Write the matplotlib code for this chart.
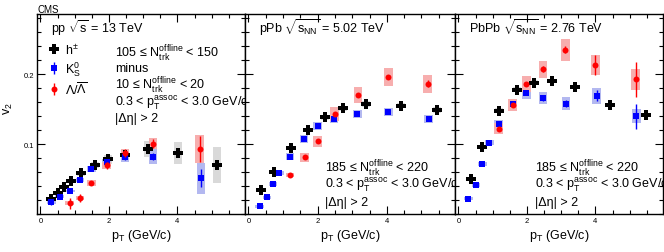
import matplotlib
matplotlib.use('Agg')
from matplotlib import pyplot as plt
from matplotlib.ticker import MultipleLocator
import numpy as np

plt.rcParams['font.family'] = ['Liberation Sans', 'DejaVu Sans']
plt.rcParams['mathtext.fontset'] = 'custom'
plt.rcParams['mathtext.rm'] = 'Liberation Sans'
plt.rcParams['mathtext.it'] = 'Liberation Sans:italic'
plt.rcParams['mathtext.sf'] = 'Liberation Sans'

# pp 13 TeV
pp_h_pt = [0.32, 0.51, 0.70, 0.90, 1.18, 1.59, 1.97, 2.47, 3.13, 4.02, 5.15]
pp_h_v2 = [0.021, 0.030, 0.038, 0.047, 0.058, 0.070, 0.078, 0.084, 0.093, 0.087, 0.070]
pp_h_sys = [0.002, 0.002, 0.002, 0.002, 0.003, 0.004, 0.006, 0.009, 0.011, 0.016, 0.026]
pp_k_pt = [0.32, 0.56, 0.87, 1.16, 1.49, 1.93, 2.47, 3.28, 4.69]
pp_k_v2 = [0.017, 0.025, 0.033, 0.049, 0.064, 0.074, 0.081, 0.082, 0.051]
pp_k_sys = [0.002, 0.002, 0.002, 0.003, 0.004, 0.005, 0.007, 0.011, 0.022]
pp_k_stat = [0.004, 0.002, 0.002, 0.002, 0.002, 0.003, 0.004, 0.005, 0.013]
pp_l_pt = [0.85, 1.16, 1.49, 1.93, 2.47, 3.28, 4.65]
pp_l_v2 = [0.0155, 0.0226, 0.044, 0.0696, 0.0875, 0.1007, 0.093]
pp_l_sys = [0.003, 0.003, 0.004, 0.005, 0.006, 0.008, 0.020]
pp_l_stat = [0.008, 0.006, 0.003, 0.005, 0.006, 0.007, 0.019]

# pPb 5.02 TeV
pa_h_pt = [0.37, 0.73, 1.22, 1.72, 2.22, 2.74, 3.41, 4.42, 5.46]
pa_h_v2 = [0.034, 0.060, 0.094, 0.120, 0.138, 0.151, 0.157, 0.155, 0.149]
pa_h_sys = [0.002, 0.002, 0.003, 0.003, 0.003, 0.004, 0.004, 0.004, 0.004]
pa_k_pt = [0.32, 0.54, 0.71, 0.89, 1.20, 1.61, 2.00, 2.47, 3.15, 4.04, 5.21]
pa_k_v2 = [0.011, 0.024, 0.043, 0.059, 0.082, 0.107, 0.126, 0.136, 0.143, 0.146, 0.136]
pa_k_sys = [0.002, 0.002, 0.003, 0.003, 0.005, 0.006, 0.006, 0.006, 0.006, 0.006, 0.006]
pa_k_stat = [0.002, 0.001, 0.001, 0.001, 0.001, 0.001, 0.001, 0.001, 0.002, 0.002, 0.003]
pa_l_pt = [1.20, 1.62, 2.00, 2.49, 3.17, 4.04, 5.18]
pa_l_v2 = [0.056, 0.081, 0.104, 0.143, 0.170, 0.196, 0.186]
pa_l_sys = [0.003, 0.006, 0.008, 0.010, 0.011, 0.013, 0.0125]
pa_l_stat = [0.001, 0.002, 0.002, 0.002, 0.003, 0.003, 0.005]

# PbPb 2.76 TeV
aa_h_pt = [0.37, 0.70, 1.19, 1.71, 2.21, 2.73, 3.39, 4.41, 5.46]
aa_h_v2 = [0.050, 0.096, 0.148, 0.178, 0.188, 0.190, 0.182, 0.156, 0.142]
aa_h_sys = [0.002, 0.002, 0.003, 0.003, 0.003, 0.003, 0.003, 0.003, 0.003]
aa_k_pt = [0.29, 0.51, 0.70, 0.90, 1.17, 1.58, 1.98, 2.47, 3.14, 4.03, 5.19]
aa_k_v2 = [0.022, 0.042, 0.072, 0.102, 0.129, 0.158, 0.173, 0.166, 0.158, 0.169, 0.140]
aa_k_sys = [0.002, 0.003, 0.003, 0.004, 0.006, 0.007, 0.008, 0.009, 0.0095, 0.011, 0.010]
aa_k_stat = [0.002, 0.001, 0.001, 0.001, 0.002, 0.002, 0.003, 0.004, 0.005, 0.008, 0.018]
aa_l_pt = [1.17, 1.58, 1.98, 2.47, 3.12, 4.00, 5.17]
aa_l_v2 = [0.122, 0.156, 0.186, 0.207, 0.235, 0.213, 0.193]
aa_l_sys = [0.008, 0.008, 0.011, 0.012, 0.0155, 0.014, 0.015]
aa_l_stat = [0.003, 0.003, 0.003, 0.004, 0.005, 0.014, 0.025]

panels = [
    ('pp $\\sqrt{\\mathrm{s}}$ = 13 TeV',
     (pp_h_pt, pp_h_v2, pp_h_sys), (pp_k_pt, pp_k_v2, pp_k_sys, pp_k_stat),
     (pp_l_pt, pp_l_v2, pp_l_sys, pp_l_stat)),
    ('pPb $\\sqrt{\\mathrm{s}_{\\mathrm{NN}}}$ = 5.02 TeV',
     (pa_h_pt, pa_h_v2, pa_h_sys), (pa_k_pt, pa_k_v2, pa_k_sys, pa_k_stat),
     (pa_l_pt, pa_l_v2, pa_l_sys, pa_l_stat)),
    ('PbPb $\\sqrt{\\mathrm{s}_{\\mathrm{NN}}}$ = 2.76 TeV',
     (aa_h_pt, aa_h_v2, aa_h_sys), (aa_k_pt, aa_k_v2, aa_k_sys, aa_k_stat),
     (aa_l_pt, aa_l_v2, aa_l_sys, aa_l_stat)),
]

W, H = 664, 253
fig = plt.figure(figsize=(W / 100, H / 100), dpi=100)
lefts = [37, 245, 455]
widths = [208, 210, 208]
fs = 9

def sysbox(ax, x, y, s, color, w=0.25):
    y = np.array(y)
    s = np.array(s)
    ax.bar(x, 2 * s, width=w, bottom=y - s, color=color, linewidth=0, zorder=1)

axes = []
for i, (title, h, k, l) in enumerate(panels):
    ax = fig.add_axes([lefts[i] / W, 1 - 215 / H, widths[i] / W, 200 / H])
    axes.append(ax)
    sysbox(ax, h[0], h[1], h[2], '#d9d9d9', 0.23)
    sysbox(ax, k[0], k[1], k[2], '#b3b8f0')
    sysbox(ax, l[0], l[1], l[2], '#f7aeae')
    ax.plot(h[0], h[1], 'P', color='black', ms=6.5, mew=0, zorder=3, label='$\\mathrm{h}^{\\pm}$')
    ax.errorbar(k[0], k[1], yerr=k[3], fmt='s', color='blue', ms=4.2, mew=0,
                elinewidth=1, capsize=0, zorder=4, label='$\\mathrm{K}_{\\mathrm{S}}^{0}$')
    ax.errorbar(l[0], l[1], yerr=l[3], fmt='o', color='red', ms=4.3, mew=0,
                elinewidth=1, capsize=0, zorder=5, label='$\\Lambda/\\overline{\\Lambda}$')

    ax.set_xlim(-0.1, 5.97)
    ax.set_ylim(0.0, 0.286)
    ax.xaxis.set_major_locator(MultipleLocator(2))
    ax.xaxis.set_minor_locator(MultipleLocator(0.5))
    ax.yaxis.set_major_locator(MultipleLocator(0.1))
    ax.yaxis.set_minor_locator(MultipleLocator(0.02))
    ax.tick_params(which='both', direction='in', top=True, right=True, labelsize=5.5, pad=2)
    ax.tick_params(which='major', length=6, width=0.8)
    ax.tick_params(which='minor', length=3, width=0.8)
    for sp in ax.spines.values():
        sp.set_linewidth(1)
    ax.set_yticks([0.1, 0.2])
    ax.set_yticklabels(['0.1', '0.2'])
    if i > 0:
        ax.set_yticklabels([])
    ax.set_xlabel('$\\mathrm{p}_{\\mathrm{T}}$ (GeV/c)', fontsize=9, labelpad=2)
    ax.text(0.067, 0.908, title, transform=ax.transAxes, fontsize=fs, va='baseline')

ax1 = axes[0]
ax1.set_ylabel('$\\mathrm{v}_{2}$', fontsize=9)
ax1.yaxis.set_label_coords(-0.105, 0.53)
ax1.legend(loc='upper left', bbox_to_anchor=(0.02, 0.89), frameon=False, fontsize=fs,
           handlelength=1.0, handletextpad=0.4, labelspacing=0.2, borderpad=0)

lines1 = ['105 ≤ $\\mathrm{N}_{\\mathrm{trk}}^{\\mathrm{offline}}$ < 150', 'minus',
          '10 ≤ $\\mathrm{N}_{\\mathrm{trk}}^{\\mathrm{offline}}$ < 20',
          '0.3 < $\\mathrm{p}_{\\mathrm{T}}^{\\mathrm{assoc}}$ < 3.0 GeV/c', '|Δη| > 2']
base1 = [0.788, 0.713, 0.628, 0.545, 0.466]
for t, yb in zip(lines1, base1):
    ax1.text(0.375, yb, t, transform=ax1.transAxes, fontsize=fs, va='baseline')

lines2 = ['185 ≤ $\\mathrm{N}_{\\mathrm{trk}}^{\\mathrm{offline}}$ < 220',
          '0.3 < $\\mathrm{p}_{\\mathrm{T}}^{\\mathrm{assoc}}$ < 3.0 GeV/c', '|Δη| > 2']
base2 = [0.213, 0.133, 0.045]
for ax, xl in zip(axes[1:], [0.381, 0.385]):
    for t, yb in zip(lines2, base2):
        ax.text(xl, yb, t, transform=ax.transAxes, fontsize=fs, va='baseline')

fig.text(37 / W, 1 - 13 / H, 'CMS', fontsize=7, va='baseline')

fig.savefig('out.png', dpi=100)
